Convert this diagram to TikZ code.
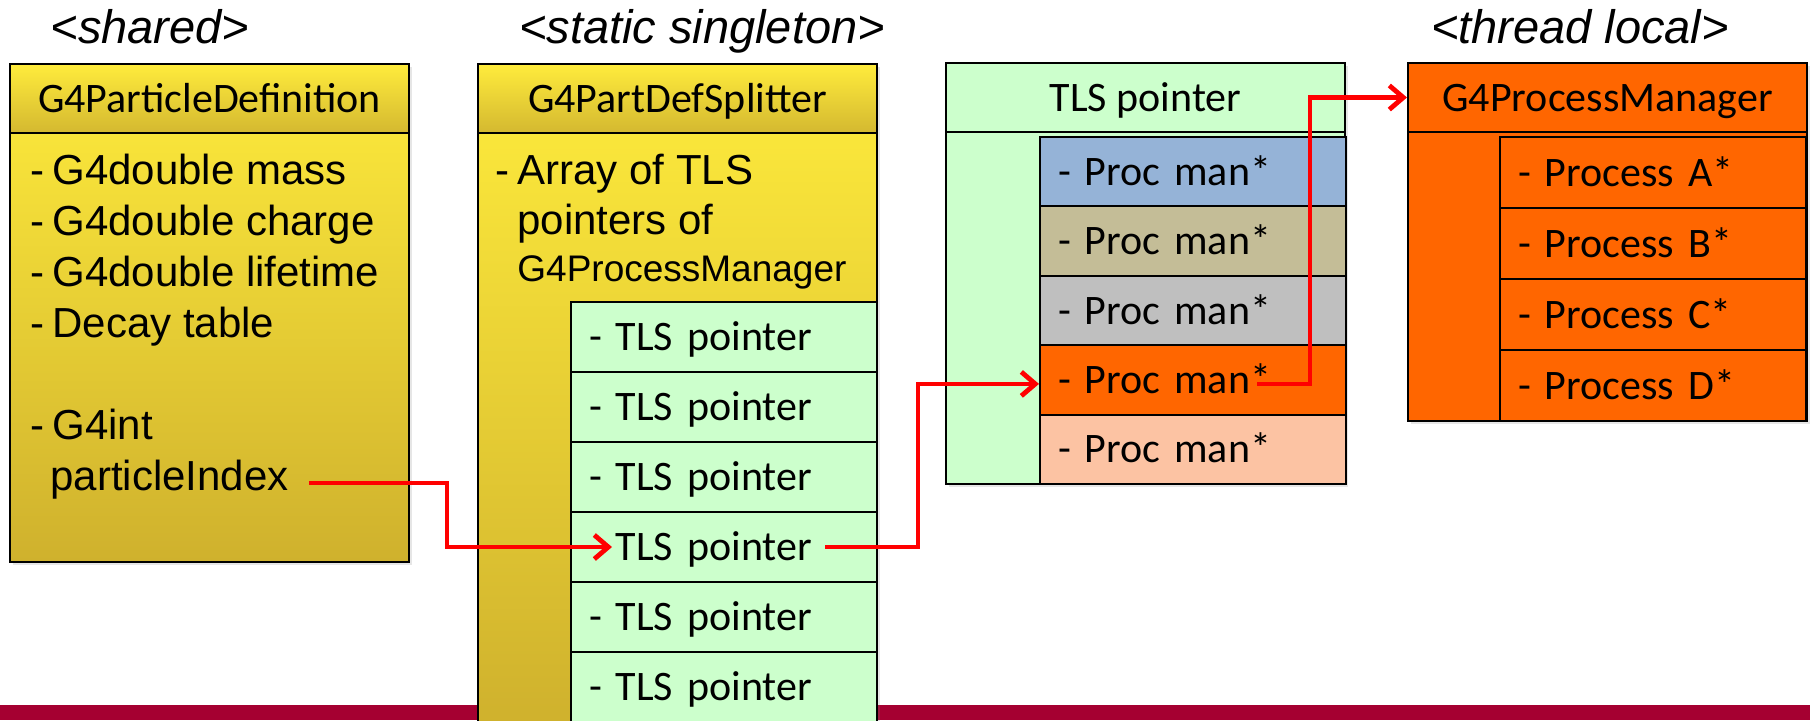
\documentclass[tikz,border=0pt]{standalone}
\usepackage{fontspec}
\setmainfont{Liberation Sans}
\newfontfamily\calibri{Carlito}
\usetikzlibrary{positioning,arrows.meta,shadows}

\definecolor{goldtop}{HTML}{FFEC3C}
\definecolor{goldbot}{HTML}{CFB12D}
\definecolor{headbot}{HTML}{D4B830}
\definecolor{tlsgreen}{HTML}{CCFFCC}
\definecolor{procblue}{HTML}{95B3D7}
\definecolor{proctan}{HTML}{C4BD97}
\definecolor{procgray}{HTML}{BFBFBF}
\definecolor{procorange}{HTML}{FF6600}
\definecolor{procpeach}{HTML}{FCC3A3}
\definecolor{bandred}{HTML}{A50031}
\definecolor{linkred}{HTML}{FF0000}

\newcommand\itemdash{\llap{-\hspace{4pt}}}

\tikzset{
  px/.style={x=0.5pt,y=-0.5pt},
  classbox/.style={draw, line width=1pt, anchor=north west, inner sep=0pt,
    minimum width=199.5pt,
    drop shadow={opacity=0.2,shadow xshift=1.5pt,shadow yshift=-1.5pt}},
  classhead/.style={draw, line width=1pt, anchor=north west, inner sep=0pt,
    minimum width=199.5pt, minimum height=34.5pt,
    text height=13.5pt, text depth=0pt, font=\calibri\fontsize{21}{25}\selectfont},
  rowbox/.style={draw, line width=1pt, anchor=north west, text width=135pt,
    align=left, inner xsep=9pt, inner ysep=0pt,
    text height=13.5pt, text depth=0pt, font=\calibri\fontsize{21}{25}\selectfont},
  itemtext/.style={anchor=base west, inner sep=0pt, font=\fontsize{21}{25}\selectfont},
  titletext/.style={anchor=base, inner sep=0pt, font=\fontsize{23.5}{28}\selectfont\itshape},
  link/.style={draw=linkred, line width=2.4pt, -{Straight Barb[length=7pt,width=12pt]}}
}

\begin{document}
\begin{tikzpicture}[px]
  \useasboundingbox (0,0) rectangle (1810,720);
  \fill[bandred] (0,705) rectangle (1810,720);

  % titles
  \node[titletext] (shared) at (150,43) {<shared>};
  \node[titletext] (static) at (702,43) {<static singleton>};
  \node[titletext] (thread) at (1580,43) {<thread local>};

  % shared particle definition
  \node[classbox, top color=goldtop, bottom color=goldbot, minimum height=249pt] (pdef) at (9,63) {};
  \node[classhead, top color=goldtop, bottom color=headbot] (pdef-head) at (pdef.north west) {G4ParticleDefinition};
  \foreach \txt/\yb [count=\i] in {G4double mass/184, G4double charge/235, G4double lifetime/286, Decay table/337, G4int/439}
    \node[itemtext] (pdef-item\i) at (52,\yb) {\itemdash\txt};
  \node[itemtext] (pidx) at (50,490) {particleIndex};

  % splitter with its TLS pointers
  \node[classbox, top color=goldtop, bottom color=goldbot, minimum height=331pt] (split) at (477,63) {};
  \node[classhead, top color=goldtop, bottom color=headbot] (split-head) at (split.north west) {G4PartDefSplitter};
  \node[itemtext] (split-item1) at (517,184) {\itemdash Array of TLS};
  \node[itemtext] (split-item2) at (517,234) {pointers of};
  \node[itemtext, font=\fontsize{18.5}{22}\selectfont] (split-item3) at (517,281) {G4ProcessManager};
  \foreach \txt [count=\i] in {- TLS pointer, - TLS pointer, - TLS pointer, \phantom{- }TLS pointer, - TLS pointer, - TLS pointer} {
    \pgfmathsetmacro{\ytop}{301+70*(\i-1)}
    \node[rowbox, fill=tlsgreen, minimum height=35pt] (tls-\i) at (570,\ytop) {\txt};
  }

  % thread local pointer
  \node[classbox, fill=tlsgreen, minimum height=210.5pt] (tlsptr) at (945,62) {};
  \node[classhead, fill=tlsgreen] (tlsptr-head) at (tlsptr.north west) {TLS pointer};
  \foreach \col [count=\i] in {procblue,proctan,procgray,procorange,procpeach} {
    \pgfmathsetmacro{\ytop}{136+69.4*(\i-1)}
    \node[rowbox, fill=\col, minimum height=34.7pt] (pm-\i) at (1039,\ytop) {- Proc man*};
  }

  % process manager
  \node[classbox, fill=procorange, minimum height=179pt] (procman) at (1407,62) {};
  \node[classhead, fill=procorange] (procman-head) at (procman.north west) {G4ProcessManager};
  \foreach \p [count=\i] in {A,B,C,D} {
    \pgfmathsetmacro{\ytop}{136+71*(\i-1)}
    \node[rowbox, fill=procorange, minimum height=35.5pt] (proc-\i) at (1499,\ytop) {- Process \p*};
  }

  % links
  \draw[link] ([xshift=10pt,yshift=3.5pt]pidx.base east) -- ++(138,0) |- ([xshift=21pt]tls-4.west);
  \draw[link] ([xshift=127.5pt]tls-4.west) -- ++(93,0) |- ([yshift=-2pt]pm-4.west);
  \draw[link] ([xshift=109pt,yshift=-2pt]pm-4.west) -- ++(53,0) |- (procman-head.west);
\end{tikzpicture}
\end{document}
